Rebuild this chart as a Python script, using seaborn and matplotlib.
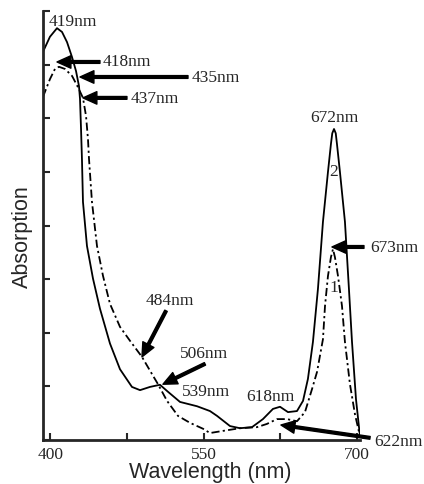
import matplotlib
matplotlib.use("Agg")
import matplotlib.pyplot as plt
import seaborn as sns

# spectrum 2 (solid) and spectrum 1 (dash-dot)
wl_2 = [393.0, 399.8, 406.7, 411.6, 416.5, 421.4, 425.3, 428.2, 429.2, 430.2,
        431.1, 432.1, 436.0, 441.9, 448.7, 458.5, 468.3, 480.0, 487.9, 497.6,
        507.4, 515.2, 527.0, 543.6, 556.3, 563.2, 575.9, 585.6, 597.4, 608.1,
        617.9, 624.8, 632.6, 641.4, 647.3, 652.1, 657.0, 661.9, 666.8, 671.7,
        674.6, 675.9, 677.6, 679.3, 680.5, 683.4, 688.3, 692.2, 695.2, 699.1, 703.0]
abs_2 = [7.24, 7.52, 7.68, 7.61, 7.42, 7.14, 6.88, 6.60, 6.36, 5.80,
         5.24, 4.44, 3.62, 3.01, 2.45, 1.80, 1.32, 0.99, 0.93, 0.99,
         1.03, 0.90, 0.71, 0.63, 0.54, 0.45, 0.26, 0.22, 0.24, 0.39,
         0.58, 0.62, 0.52, 0.54, 0.73, 1.14, 1.83, 2.82, 4.07, 5.00,
         5.52, 5.72, 5.80, 5.72, 5.52, 5.00, 4.07, 2.82, 1.83, 0.76, 0.07]

wl_1 = [393.0, 399.8, 404.7, 408.6, 414.5, 421.4, 427.2, 432.1, 435.1, 437.0,
        438.0, 440.9, 445.8, 451.7, 458.5, 468.3, 478.1, 489.8, 499.6, 505.5,
        514.3, 525.0, 536.8, 549.5, 556.3, 569.0, 585.6, 602.3, 612.0, 621.8,
        631.6, 641.4, 649.2, 656.1, 661.0, 666.8, 668.8, 671.7, 674.6, 676.6,
        678.5, 681.5, 685.4, 688.3, 693.2, 698.1, 703.0]
abs_1 = [6.40, 6.73, 6.92, 6.96, 6.92, 6.79, 6.58, 6.38, 6.04, 5.61,
         5.24, 4.44, 3.62, 3.06, 2.54, 2.11, 1.85, 1.55, 1.23, 1.04,
         0.73, 0.45, 0.32, 0.21, 0.13, 0.17, 0.22, 0.24, 0.30, 0.39,
         0.39, 0.35, 0.52, 0.95, 1.27, 1.88, 2.50, 3.06, 3.41, 3.56,
         3.41, 3.06, 2.50, 1.83, 1.04, 0.48, 0.07]

# plain labels: (text, nm, absorbance, horizontal alignment)
peak_labels = [("419nm", 398.9, 7.81, "left"),
               ("672nm", 677.6, 6.02, "center"),
               ("2", 677.6, 5.02, "center"),
               ("1", 677.6, 2.85, "center"),
               ("539nm", 528.9, 0.91, "left"),
               ("618nm", 615.0, 0.82, "center")]

# arrow labels: (text, text nm, text abs, tail nm, tail abs, tip nm, tip abs, ha)
arrow_labels = [("418nm", 451.7, 7.07, 448.7, 7.05, 406.7, 7.05, "left"),
                ("435nm", 538.7, 6.77, 534.8, 6.77, 429.2, 6.77, "left"),
                ("437nm", 479.1, 6.37, 475.1, 6.38, 432.1, 6.38, "left"),
                ("673nm", 712.8, 3.60, 706.9, 3.60, 675.6, 3.60, "left"),
                ("484nm", 517.2, 2.61, 513.3, 2.41, 489.8, 1.55, "center"),
                ("506nm", 527.0, 1.62, 551.4, 1.42, 510.3, 1.04, "left"),
                ("622nm", 716.7, -0.02, 712.8, 0.04, 625.7, 0.28, "left")]

x_ticks = [400, 475, 550, 625, 700]
x_tick_labels = ["400", "", "550", "", "700"]

sns.set_style("ticks")
plt.rcParams['font.family'] = ['Liberation Serif', 'DejaVu Serif']

fig = plt.figure(figsize=(4.24, 4.85), dpi=100)
ax = fig.add_axes([0.1014, 0.0907, 0.7476, 0.8845])

sns.lineplot(x=wl_2, y=abs_2, ax=ax, color='black', lw=1.3, estimator=None, sort=False)
sns.lineplot(x=wl_1, y=abs_1, ax=ax, color='black', lw=1.3, estimator=None, sort=False,
             linestyle=(0, (4.5, 1.8, 1.2, 1.8)))

ax.set_xlim(393, 703)
ax.set_ylim(0, 8)
ax.set_xticks(x_ticks)
ax.set_xticklabels(x_tick_labels)
ax.set_yticks(range(0, 9))
ax.set_yticklabels([])
ax.tick_params(direction='in', length=5, width=1.5, labelsize=12.5, pad=4)

for side in ['top', 'right']:
    ax.spines[side].set_visible(False)
for side in ['left', 'bottom']:
    ax.spines[side].set_linewidth(2)

sans = ['Liberation Sans', 'DejaVu Sans']
ax.set_xlabel('Wavelength (nm)', fontsize=15.5, family=sans)
ax.set_ylabel('Absorption', fontsize=15.5, family=sans)
ax.xaxis.set_label_coords(0.528, -0.048)
ax.yaxis.set_label_coords(-0.032, 0.4755)

for txt, x, y, ha in peak_labels:
    ax.text(x, y, txt, fontsize=12.5, ha=ha, va='center', clip_on=False)

for txt, tx, ty, ax0, ay0, ax1, ay1, ha in arrow_labels:
    ax.text(tx, ty, txt, fontsize=12.5, ha=ha, va='center', clip_on=False)
    ax.annotate('', xy=(ax1, ay1), xytext=(ax0, ay0), annotation_clip=False,
                arrowprops=dict(facecolor='black', edgecolor='black', width=2,
                                headwidth=9, headlength=10, shrink=0))

fig.savefig('out.png', dpi=100)
